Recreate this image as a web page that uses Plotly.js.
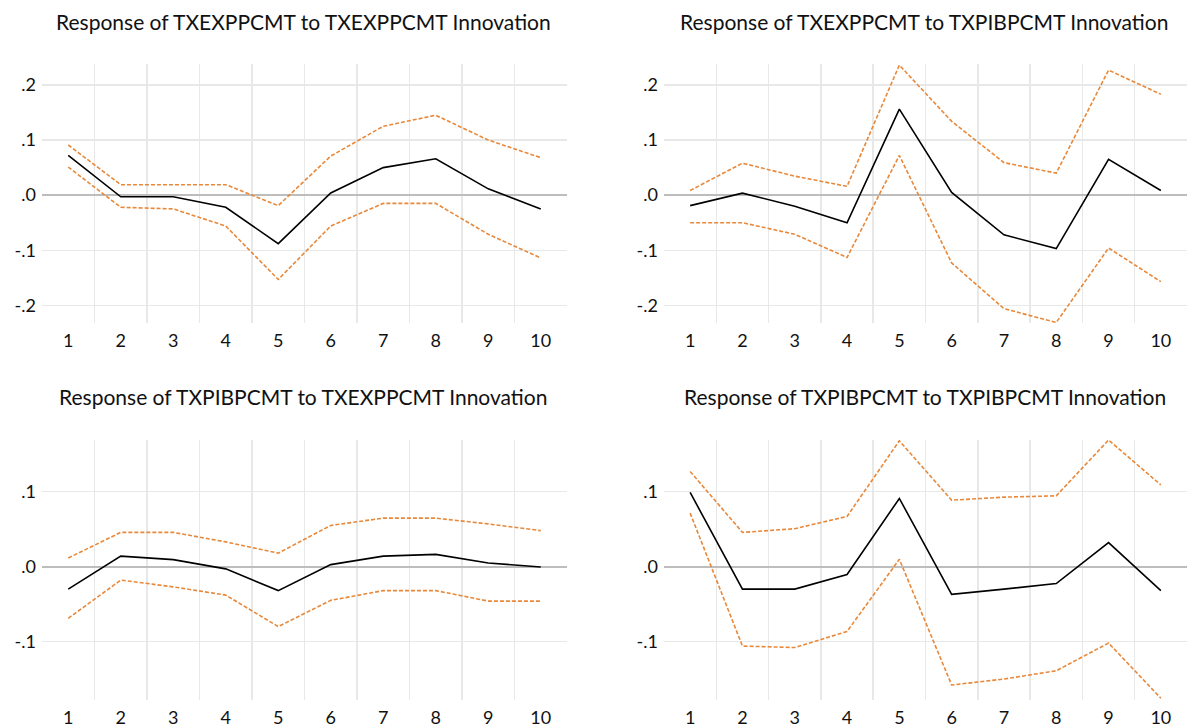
<!DOCTYPE html>
<html>
<head>
<meta charset="utf-8">
<script src="https://cdn.plot.ly/plotly-3.0.1.min.js"></script>
<style>html,body{margin:0;padding:0;background:#fff;}#chart{width:1187px;height:727px;}</style>
</head>
<body>
<div id="chart"></div>
<script>
// Periods
const periods = [1, 2, 3, 4, 5, 6, 7, 8, 9, 10];

// Panel titles
const titles = [
  "Response of TXEXPPCMT to TXEXPPCMT Innovation",
  "Response of TXEXPPCMT to TXPIBPCMT Innovation",
  "Response of TXPIBPCMT to TXEXPPCMT Innovation",
  "Response of TXPIBPCMT to TXPIBPCMT Innovation"
];

// Panel 1: TXEXPPCMT -> TXEXPPCMT
const resp11 = [0.072, -0.003, -0.003, -0.022, -0.088, 0.004, 0.050, 0.066, 0.0115, -0.025];
const upper11 = [0.091, 0.019, 0.019, 0.019, -0.019, 0.071, 0.125, 0.145, 0.100, 0.068];
const lower11 = [0.051, -0.022, -0.025, -0.056, -0.153, -0.056, -0.015, -0.015, -0.071, -0.114];

// Panel 2: TXEXPPCMT -> TXPIBPCMT innovation
const resp12 = [-0.019, 0.0036, -0.020, -0.050, 0.156, 0.005, -0.072, -0.097, 0.065, 0.0085];
const upper12 = [0.0085, 0.058, 0.0345, 0.016, 0.236, 0.134, 0.059, 0.040, 0.227, 0.183];
const lower12 = [-0.050, -0.050, -0.071, -0.113, 0.072, -0.123, -0.206, -0.231, -0.096, -0.157];

// Panel 3: TXPIBPCMT -> TXEXPPCMT innovation
const resp21 = [-0.030, 0.014, 0.0093, -0.003, -0.032, 0.0027, 0.014, 0.0164, 0.0049, -0.0004];
const upper21 = [0.0115, 0.0457, 0.0457, 0.033, 0.018, 0.055, 0.0647, 0.0647, 0.057, 0.048];
const lower21 = [-0.069, -0.018, -0.027, -0.038, -0.080, -0.045, -0.032, -0.032, -0.046, -0.046];

// Panel 4: TXPIBPCMT -> TXPIBPCMT innovation
const resp22 = [0.099, -0.030, -0.030, -0.0106, 0.091, -0.037, -0.030, -0.0226, 0.032, -0.032];
const upper22 = [0.127, 0.0457, 0.0506, 0.067, 0.168, 0.0887, 0.0927, 0.0945, 0.169, 0.109];
const lower22 = [0.0714, -0.106, -0.108, -0.0865, 0.0098, -0.158, -0.150, -0.139, -0.102, -0.1756];

// Y tick values / labels
const yTickValsTop = [-0.2, -0.1, 0.0, 0.1, 0.2];
const yTickTextTop = ["-.2", "-.1", ".0", ".1", ".2"];
const yTickValsBottom = [-0.1, 0.0, 0.1];
const yTickTextBottom = ["-.1", ".0", ".1"];
const xTickText = ["1", "2", "3", "4", "5", "6", "7", "8", "9", "10"];
const xGridVals = [1.5, 2.5, 3.5, 4.5, 5.5, 6.5, 7.5, 8.5, 9.5];

const FONT = "Lato, 'Open Sans', sans-serif";
const ORANGE = "#E8883A";
const GRID = "#e8e8e8";

const panels = [
  {resp: resp11, up: upper11, lo: lower11},
  {resp: resp12, up: upper12, lo: lower12},
  {resp: resp21, up: upper21, lo: lower21},
  {resp: resp22, up: upper22, lo: lower22}
];

const traces = [];
["x5", "x6", "x7", "x8"].forEach((xa, i) => {
  const ya = ["y", "y2", "y3", "y4"][i];
  traces.push({x: [], y: [], xaxis: xa, yaxis: ya, type: "scatter", mode: "lines", hoverinfo: "skip"});
});
panels.forEach((p, i) => {
  const xa = i === 0 ? "x" : "x" + (i + 1);
  const ya = i === 0 ? "y" : "y" + (i + 1);
  traces.push({x: periods, y: p.up, xaxis: xa, yaxis: ya, type: "scatter", mode: "lines",
    line: {color: ORANGE, width: 1.6, dash: "4px,2px"}, hoverinfo: "skip"});
  traces.push({x: periods, y: p.lo, xaxis: xa, yaxis: ya, type: "scatter", mode: "lines",
    line: {color: ORANGE, width: 1.6, dash: "4px,2px"}, hoverinfo: "skip"});
  traces.push({x: periods, y: p.resp, xaxis: xa, yaxis: ya, type: "scatter", mode: "lines",
    line: {color: "#000000", width: 1.6}, hoverinfo: "skip"});
});

const W = 1187, H = 727;
const xDomL = [42 / W, 567 / W];
const xDomR = [664 / W, 1];
const yDomT = [(H - 323) / H, (H - 64) / H];
const yDomB = [(H - 700) / H, (H - 440) / H];
const rangeTop = [-0.232, 0.238];
const rangeBot = [-0.178, 0.169];

function xAxis(domain, anchor) {
  return {domain: domain, anchor: anchor, range: [0.5, 10.5], tickmode: "array",
    tickvals: periods, ticktext: xTickText, showgrid: false, zeroline: false, showline: false,
    ticks: "", ticklabelstandoff: 5, tickfont: {family: FONT, size: 18, color: "#111"}, fixedrange: true};
}
function xGridAxis(domain, overlay, anchor) {
  return {domain: domain, overlaying: overlay, anchor: anchor, range: [0.5, 10.5], tickmode: "array",
    tickvals: xGridVals, showticklabels: false, showgrid: true, gridcolor: GRID, gridwidth: 1.5,
    zeroline: false, showline: false, ticks: "", fixedrange: true};
}
function yAxis(domain, anchor, range, vals, text) {
  return {domain: domain, anchor: anchor, range: range, tickmode: "array", tickvals: vals, ticktext: text,
    showgrid: true, gridcolor: GRID, gridwidth: 1.5, zeroline: true, zerolinecolor: "#bdbdbd", zerolinewidth: 2,
    showline: false, ticks: "", ticklabelstandoff: 5, tickfont: {family: FONT, size: 18, color: "#111"}, fixedrange: true};
}

const layout = {
  width: W, height: H,
  margin: {l: 0, r: 0, t: 0, b: 0},
  paper_bgcolor: "#ffffff", plot_bgcolor: "rgba(0,0,0,0)",
  showlegend: false,
  font: {family: FONT, color: "#111"},
  xaxis: xAxis(xDomL, "y"),
  yaxis: yAxis(yDomT, "x", rangeTop, yTickValsTop, yTickTextTop),
  xaxis2: xAxis(xDomR, "y2"),
  yaxis2: yAxis(yDomT, "x2", rangeTop, yTickValsTop, yTickTextTop),
  xaxis3: xAxis(xDomL, "y3"),
  yaxis3: yAxis(yDomB, "x3", rangeBot, yTickValsBottom, yTickTextBottom),
  xaxis4: xAxis(xDomR, "y4"),
  yaxis4: yAxis(yDomB, "x4", rangeBot, yTickValsBottom, yTickTextBottom),
  xaxis5: xGridAxis(xDomL, "x", "y"),
  xaxis6: xGridAxis(xDomR, "x2", "y2"),
  xaxis7: xGridAxis(xDomL, "x3", "y3"),
  xaxis8: xGridAxis(xDomR, "x4", "y4"),
  annotations: [
    {text: titles[0], x: 304 / W, y: 1 - 21 / H},
    {text: titles[1], x: 924 / W, y: 1 - 21 / H},
    {text: titles[2], x: 303 / W, y: 1 - 396 / H},
    {text: titles[3], x: 925 / W, y: 1 - 396 / H}
  ].map(a => Object.assign({xref: "paper", yref: "paper", xanchor: "center", yanchor: "middle",
    showarrow: false, font: {family: FONT, size: 21, color: "#111"}}, a))
};

Plotly.newPlot("chart", traces, layout, {staticPlot: true, displayModeBar: false});
</script>
</body>
</html>
